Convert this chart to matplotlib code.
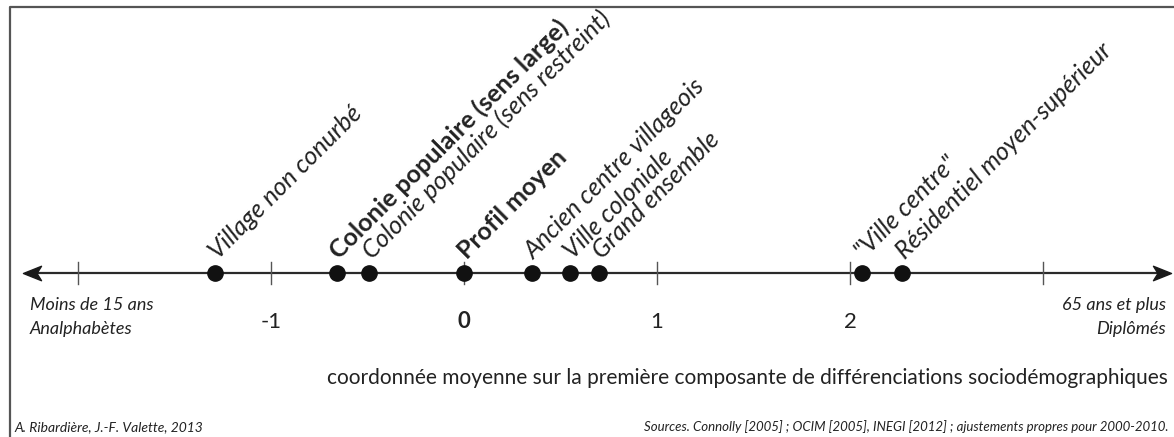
import matplotlib
matplotlib.use("Agg")
import matplotlib.pyplot as plt
from matplotlib.path import Path

plt.rcParams['font.family'] = ['Lato', 'DejaVu Sans']

# Types de quartiers et coordonnée moyenne sur la 1re composante
types = [
    "Village non conurbé",
    "Colonie populaire (sens large)",
    "Colonie populaire (sens restreint)",
    "Profil moyen",
    "Ancien centre villageois",
    "Ville coloniale",
    "Grand ensemble",
    "\"Ville centre\"",
    "Résidentiel moyen-supérieur",
]
coord = [-1.29, -0.66, -0.49, 0.0, 0.35, 0.55, 0.70, 2.06, 2.27]
bold_types = ["Colonie populaire (sens large)", "Profil moyen"]

tick_pos = [-2, -1, 0, 1, 2, 3]
tick_labels = {-1: "-1", 0: "0", 1: "1", 2: "2"}
left_pole = "Moins de 15 ans\nAnalphabètes"
right_pole = "65 ans et plus\nDiplômés"
axis_title = "coordonnée moyenne sur la première composante de différenciations sociodémographiques"
credit = "A. Ribardière, J.-F. Valette, 2013"
sources = "Sources. Connolly [2005] ; OCIM [2005], INEGI [2012] ; ajustements propres pour 2000-2010."

W, H = 1174, 437
x0, unit = 464, 193          # position du 0 (px) et px par unité
axis_y = 273

fig = plt.figure(figsize=(W / 100, H / 100), dpi=100)
ax = fig.add_axes([0, 0, 1, 1])
ax.set_xlim(-x0 / unit, (W - x0) / unit)
ax.set_ylim(H, 0)
ax.axis('off')

def xpx(p):
    # pixel -> unité de l'axe
    return (p - x0) / unit

# cadre (gauche + haut)
ax.plot([xpx(10), xpx(10), xpx(W + 5)], [H + 5, 7, 7], color='#555555', lw=1.6, clip_on=False)

# axe + pointes de flèche type "stealth"
ax.plot([xpx(30), xpx(1165)], [axis_y, axis_y], color='#2a2a2a', lw=1.6)
head_r = Path([(0.5, 0), (-0.5, 0.4), (-0.25, 0), (-0.5, -0.4), (0.5, 0)],
              [Path.MOVETO, Path.LINETO, Path.LINETO, Path.LINETO, Path.CLOSEPOLY])
head_l = Path([(-0.5, 0), (0.5, 0.4), (0.25, 0), (0.5, -0.4), (-0.5, 0)],
              [Path.MOVETO, Path.LINETO, Path.LINETO, Path.LINETO, Path.CLOSEPOLY])
ax.plot([xpx(1162)], [axis_y], marker=head_r, markersize=13, color='#1a1a1a', lw=0)
ax.plot([xpx(32)], [axis_y], marker=head_l, markersize=13, color='#1a1a1a', lw=0)

# graduations
for t in tick_pos:
    ax.plot([t, t], [axis_y - 11, axis_y + 11], color='#555555', lw=1.0)
    if t in tick_labels:
        ax.text(t, 322, tick_labels[t], ha='center', va='center', fontsize=16,
                color='#222222', fontweight='bold' if t == 0 else 'normal')

# points
ax.plot(coord, [axis_y] * len(coord), 'o', color='#111111', markersize=11, zorder=5)

# étiquettes inclinées
for name, v in zip(types, coord):
    bold = name in bold_types
    ax.annotate(name, (v, axis_y), xytext=(2, 9), textcoords='offset points',
                rotation=45, rotation_mode='anchor', ha='left', va='baseline',
                fontsize=18, color='#222222',
                fontweight='bold' if bold else 'normal',
                fontstyle='normal' if bold else 'italic')

# pôles de l'axe
ax.text(xpx(30), 317, left_pole, ha='left', va='center', fontsize=13,
        fontstyle='italic', color='#222222', linespacing=1.6)
ax.text(xpx(1166), 317, right_pole, ha='right', va='center', fontsize=13,
        fontstyle='italic', color='#222222', linespacing=1.6, multialignment='right')

ax.text(xpx(1168), 378, axis_title, ha='right', va='center', fontsize=15,
        color='#222222')

ax.text(xpx(14), 427, credit, ha='left', va='center', fontsize=10,
        fontstyle='italic', color='#222222')
ax.text(xpx(1168), 427, sources, ha='right', va='center', fontsize=9.5,
        fontstyle='italic', color='#222222')

fig.savefig('out.png', dpi=100)
